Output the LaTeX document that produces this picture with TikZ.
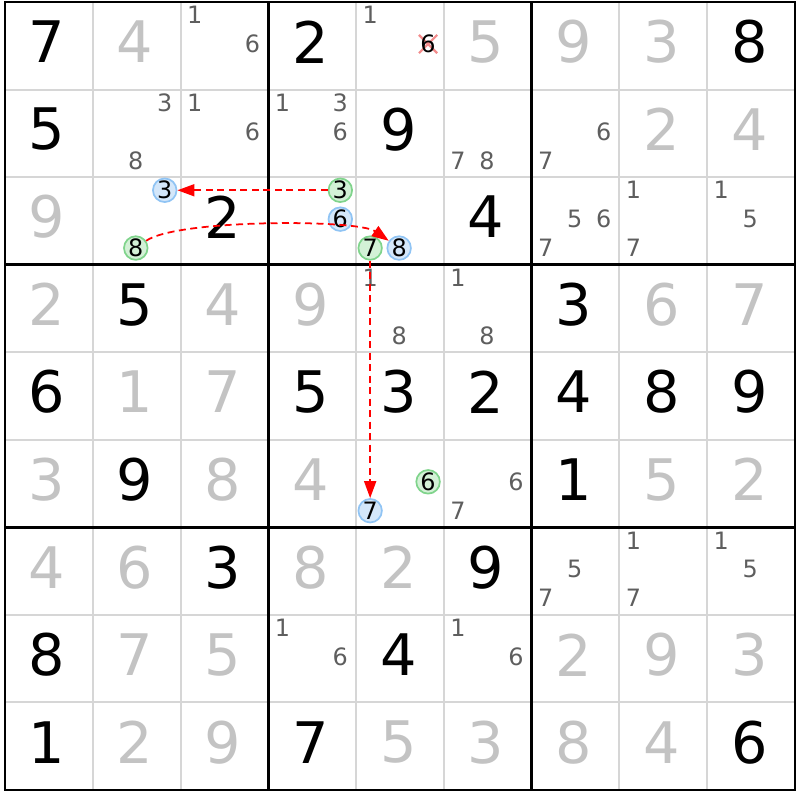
\documentclass[tikz,border=0pt]{standalone}
\usepackage{fontspec}
\setmainfont{DejaVu Sans}
\usetikzlibrary{arrows.meta,shapes.misc}

\definecolor{solvedgray}{HTML}{C3C3C3}
\definecolor{pencilgray}{HTML}{5E5E5E}
\definecolor{gridgray}{HTML}{D6D6D6}
\definecolor{onfill}{HTML}{D4E7FA}
\definecolor{onedge}{HTML}{90C4F4}
\definecolor{offfill}{HTML}{D3F1D6}
\definecolor{offedge}{HTML}{80D48C}
\definecolor{crosspink}{HTML}{F28C8C}

\tikzset{
	given/.style={inner sep=0pt, font=\fontsize{16.3}{16.3}\selectfont},
	solved/.style={given, text=solvedgray},
	pencil/.style={inner sep=0pt, font=\fontsize{6.8}{6.8}\selectfont, text=pencilgray},
	oncand/.style={pencil, text=black, circle, minimum size=2.35mm, line width=0.17mm, draw=onedge, fill=onfill},
	offcand/.style={oncand, draw=offedge, fill=offfill},
	struck/.style={cross out, draw=crosspink, line width=0.22mm, minimum size=1.6mm, inner sep=0pt},
	chainlink/.style={draw=red, line width=0.5pt, dash pattern=on 0.7mm off 0.45mm, -{Triangle[length=1.7mm,width=1.2mm]}},
	thinline/.style={draw=gridgray, line width=0.2mm},
	boxline/.style={draw=black, line width=0.28mm}
}

\begin{document}
\begin{tikzpicture}[x=0.8778cm, y=-0.8756cm]
	\def \px {0.16} % first pencil column, in cells
	\def \py {0.15} % first pencil row, in cells
	\def \pstep {0.33}
	
	\useasboundingbox (-0.057,-0.023) rectangle (9.057,9.114);
	
	% cell lines, then box lines
	\foreach \i in {1,2,4,5,7,8}
	{
		\draw[thinline] (\i,0) -- (\i,9);
		\draw[thinline] (0,\i) -- (9,\i);
	}
	\foreach \i in {3,6}
	{
		\draw[boxline] (\i,0) -- (\i,9);
		\draw[boxline] (0,\i) -- (9,\i);
	}
	\draw[boxline] (0,0) rectangle (9,9);
	
	% givens
	\foreach \r/\c/\v in {0/0/7, 0/3/2, 0/8/8, 1/0/5, 1/4/9, 2/2/2, 2/5/4, 3/1/5, 3/6/3,
		4/0/6, 4/3/5, 4/4/3, 4/5/2, 4/6/4, 4/7/8, 4/8/9, 5/1/9, 5/6/1, 6/2/3, 6/5/9,
		7/0/8, 7/4/4, 8/0/1, 8/3/7, 8/8/6}
		\node[given] (d-\r-\c) at (\c+0.48,\r+0.455) {\v};
	
	% solved cells
	\foreach \r/\c/\v in {0/1/4, 0/5/5, 0/6/9, 0/7/3, 1/7/2, 1/8/4, 2/0/9,
		3/0/2, 3/2/4, 3/3/9, 3/7/6, 3/8/7, 4/1/1, 4/2/7, 5/0/3, 5/2/8, 5/3/4, 5/7/5, 5/8/2,
		6/0/4, 6/1/6, 6/3/8, 6/4/2, 7/1/7, 7/2/5, 7/6/2, 7/7/9, 7/8/3,
		8/1/2, 8/2/9, 8/4/5, 8/5/3, 8/6/8, 8/7/4}
		\node[solved] (d-\r-\c) at (\c+0.48,\r+0.455) {\v};
	
	% pencil marks
	\foreach \r/\c/\l in {0/2/{1,6}, 0/4/{1}, 1/1/{3,8}, 1/2/{1,6}, 1/3/{1,3,6}, 1/5/{7,8},
		1/6/{6,7}, 2/6/{5,6,7}, 2/7/{1,7}, 2/8/{1,5}, 3/4/{1,8}, 3/5/{1,8}, 5/5/{6,7},
		6/6/{5,7}, 6/7/{1,7}, 6/8/{1,5}, 7/3/{1,6}, 7/5/{1,6}}
		\foreach \n in \l
		{
			\pgfmathsetmacro\candx{\c+\px+\pstep*mod(\n-1,3)}
			\pgfmathsetmacro\candy{\r+\py+\pstep*int((\n-1)/3)}
			\node[pencil] (p-\r-\c-\n) at (\candx,\candy) {\n};
		}
	
	% chain candidates
	\foreach \r/\c/\n in {2/1/3, 2/3/6, 2/4/8, 5/4/7}
	{
		\pgfmathsetmacro\candx{\c+\px+\pstep*mod(\n-1,3)}
		\pgfmathsetmacro\candy{\r+\py+\pstep*int((\n-1)/3)}
		\node[oncand] (on-\r-\c-\n) at (\candx,\candy) {\n};
	}
	\foreach \r/\c/\n in {2/1/8, 2/3/3, 2/4/7, 5/4/6}
	{
		\pgfmathsetmacro\candx{\c+\px+\pstep*mod(\n-1,3)}
		\pgfmathsetmacro\candy{\r+\py+\pstep*int((\n-1)/3)}
		\node[offcand] (off-\r-\c-\n) at (\candx,\candy) {\n};
	}
	
	% eliminated
	\node[struck] (x-0-4-6) at (4.82,0.48) {};
	\node[pencil, text=black] (del-0-4-6) at (4.82,0.48) {6};
	
	% links
	\draw[chainlink] (off-2-3-3) -- (on-2-1-3);
	\draw[chainlink] (off-2-1-8) to[bend left=35, looseness=0.4] (on-2-4-8);
	\draw[chainlink] (off-2-4-7) -- (on-5-4-7);
\end{tikzpicture}
\end{document}
